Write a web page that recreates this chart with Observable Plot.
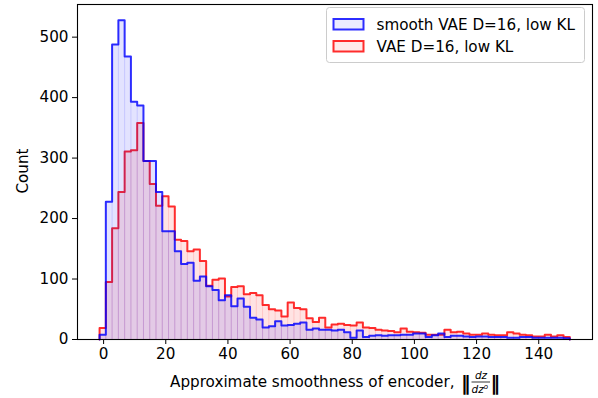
<!DOCTYPE html>
<html>
<head>
<meta charset="utf-8">
<script src="https://cdn.jsdelivr.net/npm/d3@7"></script>
<script src="https://cdn.jsdelivr.net/npm/@observablehq/plot@0.6"></script>
<style>
  html, body { margin: 0; padding: 0; background: #fff; }
  #chart { width: 598px; height: 398px; }
</style>
</head>
<body>
<div id="chart"></div>
<script>
// Histogram bins (75 equal bins spanning the data range)
const binStart = -1.3;
const binEnd = 150;
const nBins = 75;

// Series names
const seriesNames = ["smooth VAE D=16, low KL", "VAE D=16, low KL"];
const seriesColors = ["#0000ff", "#ff0000"];

// Counts per bin
const smoothCounts = [
  8, 228, 488, 528, 468, 393, 387, 295, 295, 244,
  179, 179, 146, 125, 127, 97, 104, 88, 82, 65,
  73, 55, 68, 54, 36, 33, 20, 22, 30, 23,
  24, 26, 28, 16, 18, 16, 16, 15, 16, 12,
  3, 15, 4, 6, 7, 6, 7, 7, 8, 8,
  10, 10, 4, 7, 10, 4, 6, 6, 5, 4,
  5, 5, 4, 4, 4, 3, 3, 4, 4, 3,
  3, 3, 3, 3, 2
];
const vaeCounts = [
  19, 95, 184, 244, 311, 313, 358, 295, 257, 221,
  237, 220, 165, 163, 146, 149, 130, 89, 99, 101,
  71, 87, 88, 75, 77, 73, 57, 50, 48, 38,
  61, 52, 50, 35, 29, 36, 20, 25, 26, 24,
  23, 28, 20, 19, 16, 15, 14, 12, 18, 13,
  12, 11, 8, 8, 8, 16, 12, 13, 10, 8,
  8, 10, 8, 7, 7, 12, 10, 8, 7, 5,
  5, 8, 5, 7, 4
];

// Tick values
const xTicks = [0, 20, 40, 60, 80, 100, 120, 140];
const yTicks = [0, 100, 200, 300, 400, 500];

const FS = 15.2;
const edges = d3.range(nBins + 1).map(i => binStart + i * (binEnd - binStart) / nBins);

function stepPoints(counts) {
  const pts = [{x: edges[0], y: 0}];
  counts.forEach((c, i) => pts.push({x: edges[i], y: c}));
  pts.push({x: edges[nBins], y: counts[nBins - 1]});
  pts.push({x: edges[nBins], y: 0});
  return pts;
}
function edgeRules(counts) {
  const r = [];
  for (let k = 1; k < nBins; k++) r.push({x: edges[k], y: Math.min(counts[k - 1], counts[k])});
  return r;
}

const smoothPts = stepPoints(smoothCounts);
const vaePts = stepPoints(vaeCounts);

function layer(pts, counts, color) {
  return [
    Plot.areaY(pts, {x: "x", y: "y", curve: "step-after", fill: color, fillOpacity: 0.11}),
    Plot.ruleX(edgeRules(counts), {x: "x", y1: 0, y2: "y", stroke: color, strokeOpacity: 0.13, strokeWidth: 1}),
    Plot.line(pts, {x: "x", y: "y", curve: "step-after", stroke: color, strokeOpacity: 0.82, strokeWidth: 2})
  ];
}

const chart = Plot.plot({
  width: 598,
  height: 398,
  marginLeft: 77,
  marginRight: 6,
  marginTop: 4,
  marginBottom: 59,
  style: {fontFamily: "DejaVu Sans", fontSize: FS + "px", color: "#000", background: "#fff"},
  x: {domain: [-8.4, 157.3]},
  y: {domain: [0, 554]},
  marks: [
    ...layer(vaePts, vaeCounts, seriesColors[1]),
    ...layer(smoothPts, smoothCounts, seriesColors[0]),
    Plot.axisX({ticks: xTicks, tickSize: 5, tickPadding: 4, fontSize: FS, label: null, tickFormat: d => String(d)}),
    Plot.axisY({ticks: yTicks, tickSize: 5, tickPadding: 4, fontSize: FS, label: null, tickFormat: d => String(d)}),
    Plot.frame({stroke: "#000", strokeWidth: 1.1})
  ]
});

document.getElementById("chart").appendChild(chart);

// Axis titles and legend
const svg = d3.select(chart);
const font = "DejaVu Sans";

svg.append("text")
  .attr("transform", "translate(27.5,171) rotate(-90)")
  .attr("text-anchor", "middle")
  .attr("font-family", font).attr("font-size", FS).attr("fill", "#000")
  .text("Count");

const xl = svg.append("g").attr("font-family", font).attr("fill", "#000").attr("text-anchor", "start");
xl.append("text").attr("x", 170).attr("y", 387).attr("font-size", FS).attr("text-anchor", "start")
  .text("Approximate smoothness of encoder, ");
xl.append("text").attr("x", 461).attr("y", 389.5).attr("font-size", 19).attr("font-weight", "bold")
  .attr("text-anchor", "start").text("‖");
xl.append("text").attr("x", 481).attr("y", 378.5).attr("font-size", 10.5).attr("font-style", "italic")
  .attr("text-anchor", "middle").text("dz");
xl.append("line").attr("x1", 471.5).attr("x2", 490).attr("y1", 382).attr("y2", 382)
  .attr("stroke", "#000").attr("stroke-width", 0.8);
const den = xl.append("text").attr("x", 471.5).attr("y", 393).attr("font-size", 10.5).attr("font-style", "italic")
  .attr("text-anchor", "start");
den.append("tspan").text("dz");
den.append("tspan").attr("dy", -3.8).attr("font-size", 7).text("o");
xl.append("text").attr("x", 490.5).attr("y", 389.5).attr("font-size", 19).attr("font-weight", "bold")
  .attr("text-anchor", "start").text("‖");

const lg = svg.append("g").attr("font-family", font).attr("text-anchor", "start");
lg.append("rect").attr("x", 326.5).attr("y", 7.5).attr("width", 258).attr("height", 55).attr("rx", 3)
  .attr("fill", "#fff").attr("fill-opacity", 0.8).attr("stroke", "#cccccc").attr("stroke-width", 1);
seriesNames.forEach((name, i) => {
  const y0 = 19 + i * 22;
  lg.append("rect").attr("x", 333.5).attr("y", y0).attr("width", 30).attr("height", 10.5)
    .attr("fill", seriesColors[i]).attr("fill-opacity", 0.08)
    .attr("stroke", seriesColors[i]).attr("stroke-opacity", 0.82).attr("stroke-width", 2);
  lg.append("text").attr("x", 376.5).attr("y", y0 + 11).attr("font-size", FS).attr("fill", "#000")
    .attr("text-anchor", "start").text(name);
});
</script>
</body>
</html>
